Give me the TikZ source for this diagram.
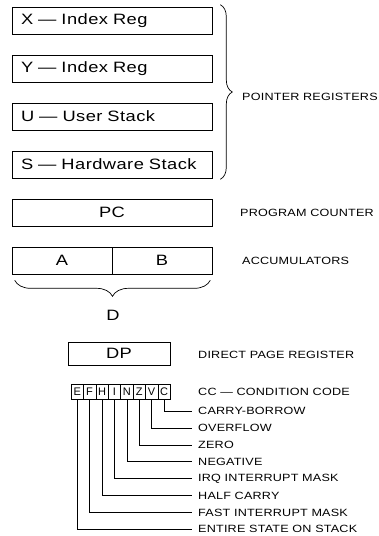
\documentclass[tikz,border=0pt]{standalone}
\usepackage{fontspec}
\setmainfont{Liberation Sans}
\newfontfamily\bigfont[FakeStretch=1.22,LetterSpace=3]{Liberation Sans}
\newfontfamily\smallfont[FakeStretch=1.2,LetterSpace=2]{Liberation Sans}
\usetikzlibrary{decorations.pathreplacing}

\begin{document}
\begin{tikzpicture}[x=1pt,y=-1pt,
    reg/.style={draw, line width=0.6pt, minimum height=27pt, inner sep=0pt,
      font=\bigfont\fontsize{15}{16}\selectfont},
    cell/.style={draw, line width=0.6pt, minimum width=12.4pt, minimum height=15pt,
      inner sep=0pt, font=\rmfamily\fontsize{11}{12}\selectfont},
    lbl/.style={anchor=west, inner xsep=6pt, inner ysep=1pt,
      font=\smallfont\fontsize{10.5}{11}\selectfont},
    lead/.style={line width=0.6pt},
    brc/.style={decorate, line width=0.7pt}]
 % Define un área de bounding box para que no cambie el tamaño de la figura
    \useasboundingbox (0,0) rectangle (379,536);

    % Registros punteros
    \node[reg, minimum width=200pt, text width=182pt, align=left] (rX) at (112,20.5) {X — Index Reg};
    \node[reg, minimum width=200pt, text width=182pt, align=left] (rY) at (112,68.5) {Y — Index Reg};
    \node[reg, minimum width=200pt, text width=182pt, align=left] (rU) at (112,116.5) {U — User Stack};
    \node[reg, minimum width=200pt, text width=182pt, align=left] (rS) at (112,164.5) {S — Hardware Stack};

    \draw[brc, decoration={brace, amplitude=12pt}]
        ([xshift=8pt,yshift=2pt]rX.north east) -- ([xshift=8pt,yshift=-1pt]rS.south east);
    \node[lbl] (lPtr) at (236,97) {POINTER REGISTERS};

    % Contador de programa y acumuladores
    \node[reg, minimum width=200pt] (rPC) at (112,212.5) {PC};
    \node[lbl] (lPC) at (234,212.5) {PROGRAM COUNTER};

    \node[reg, minimum width=100pt] (rA) at (62,260.5) {A};
    \node[reg, minimum width=100pt] (rB) at (162,260.5) {B};
    \node[lbl] (lAcc) at (236,260.5) {ACCUMULATORS};

    \draw[brc, decoration={brace, mirror, amplitude=16pt}]
        ([xshift=3pt,yshift=-6pt]rA.south west) -- ([xshift=-2pt,yshift=-6pt]rB.south east);
    \node[reg, draw=none] (rD) at (113,315) {D};

    % Pagina directa
    \node[reg, minimum width=102pt, minimum height=23pt] (rDP) at (119,353.5) {DP};
    \node[lbl] (lDP) at (192,355) {DIRECT PAGE REGISTER};

    % Codigo de condicion
    \foreach \flag [count=\i] in {E,F,H,I,N,Z,V,C}
        \node[cell] (c\flag) at ({71+12.4*(\i-0.5)},391.5) {\flag};
    \node[lbl] (lCC) at (192,392) {CC — CONDITION CODE};

    % Lineas a cada bit
    \foreach \flag/\desc [count=\i] in {C/CARRY-BORROW, V/OVERFLOW, Z/ZERO, N/NEGATIVE,
        I/IRQ INTERRUPT MASK, H/HALF CARRY, F/FAST INTERRUPT MASK, E/ENTIRE STATE ON STACK} {
        \node[lbl] (l\flag) at (192,{411+16.9*(\i-1)}) {\desc};
        \draw[lead] (c\flag.south) |- (l\flag.west);
    }

\end{tikzpicture}
\end{document}
